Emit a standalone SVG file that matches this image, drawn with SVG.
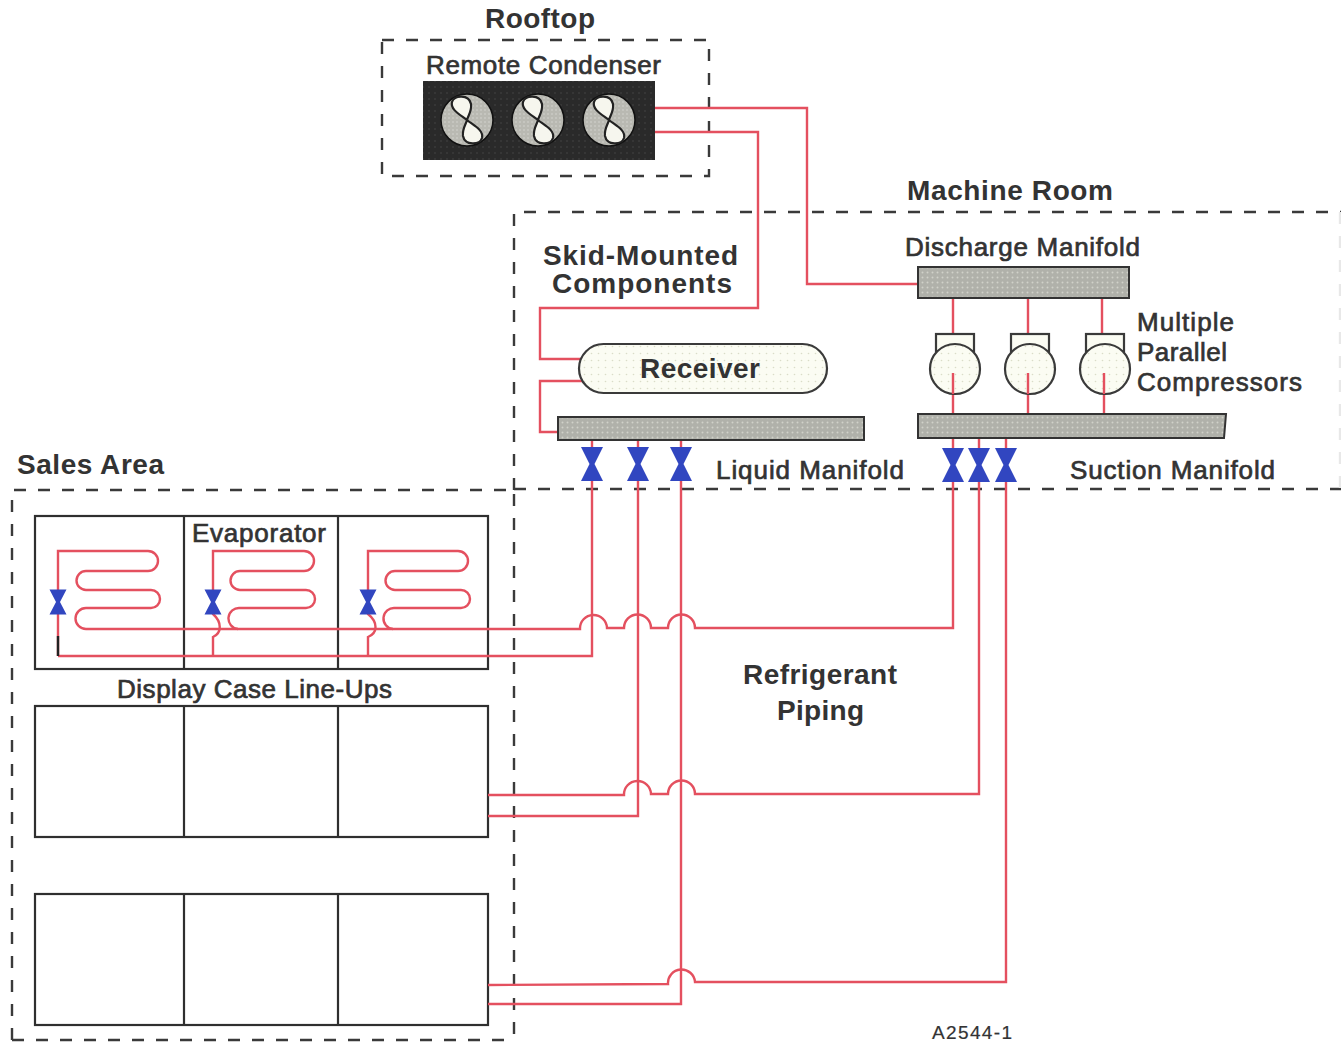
<svg xmlns="http://www.w3.org/2000/svg" width="1341" height="1042" viewBox="0 0 1341 1042">
<style>
text{font-family:"Liberation Sans",Arial,sans-serif;fill:#333;stroke:#333;stroke-width:.7;font-size:26px}
.b{font-weight:bold;stroke-width:0;font-size:28px}
.frame{fill:none;stroke:#3a3a3a;stroke-width:2.4;stroke-dasharray:12 12}
.pipe{fill:none;stroke:#e4505f;stroke-width:2.4}
.case{fill:#fff;stroke:#2f2f2f;stroke-width:2.2}
.man{fill:url(#grey);stroke:#333;stroke-width:2}
.cream{fill:url(#cream);stroke:#3a3a3a;stroke-width:2.2}
.valve{fill:#3146c0}
.fan{fill:url(#fangrey);stroke:#111;stroke-width:1.5}
.blade{fill:#f6f6ee;stroke:#222;stroke-width:2.2}
</style>
<defs>
<pattern id="grey" width="5" height="5" patternUnits="userSpaceOnUse"><rect width="5" height="5" fill="#b0b1aa"/><circle cx="2.5" cy="2.5" r="1" fill="#d0d1c9"/></pattern>
<pattern id="cream" width="7" height="7" patternUnits="userSpaceOnUse"><rect width="7" height="7" fill="#fbfcf3"/><circle cx="3.5" cy="3.5" r=".8" fill="#dadcc8"/></pattern>
<pattern id="fangrey" width="4" height="4" patternUnits="userSpaceOnUse"><rect width="4" height="4" fill="#b9b9b2"/><circle cx="2" cy="2" r=".8" fill="#d6d6d0"/></pattern>
<pattern id="dark" width="6" height="6" patternUnits="userSpaceOnUse"><rect width="6" height="6" fill="#2a2a2a"/><circle cx="3" cy="3" r=".7" fill="#4a4a4a"/></pattern>
<path id="v" class="valve" d="M-11,-17H11L2.5,0L11,17H-11L-2.5,0Z"/>
<path id="vs" class="valve" d="M-8.500,-12.500H8.500L2,0L8.500,12.500H-8.500L-2,0Z"/>
<g id="fanshape">
<circle class="fan" r="26"/>
<path class="blade" d="M0,0C-6,-5 -17,-10 -15,-18C-13,-25 2,-26 4,-16C5,-9 1,-4 0,0C-1,4 -5,9 -4,16C-2,26 13,25 15,18C17,10 6,5 0,0Z"/>
</g>
</defs>

<g id="frames">
<rect class="frame" x="382" y="40" width="327" height="136"/>
<path class="frame" d="M514,490V212H1341"/>
<path class="frame" d="M514,489H1341"/>
<path class="frame" d="M1340,212V489" style="stroke:#e8e8e8"/>
<path class="frame" d="M12,1040V490H514V1040"/>
<path class="frame" d="M12,1040H514"/>
</g>

<g id="case-1"><rect class="case" x="35" y="516" width="453" height="153"/><path class="case" d="M184,516V669M338,516V669"/></g>
<g id="case-2"><rect class="case" x="35" y="706" width="453" height="131"/><path class="case" d="M184,706V837M338,706V837"/></g>
<g id="case-3"><rect class="case" x="35" y="894" width="453" height="131"/><path class="case" d="M184,894V1025M338,894V1025"/></g>

<g id="connectors">
<path class="pipe" d="M655,108H807V284H918"/>
<path class="pipe" d="M655,132H758V308H540V359H582"/>
<path class="pipe" d="M582,381H540V432H558"/>
<path class="pipe" d="M953,298V334M1028,298V334M1102,298V334"/>
<path class="pipe" d="M58,656H592V440"/>
<path class="pipe" d="M638,440V816H488"/>
<path class="pipe" d="M681,440V1004H488"/>
<path class="pipe" d="M953,438V628H695A13.500,13.500 0 0 0 668,628H651A13.500,13.500 0 0 0 624,628H607A13.500,13.500 0 0 0 580,629H86"/>
<path class="pipe" d="M979,438V794H695A13.500,13.500 0 0 0 668,794H651A13.500,13.500 0 0 0 624,795H488"/>
<path class="pipe" d="M1006,438V982H695A13.500,13.500 0 0 0 668,984L488,985"/>
<path class="pipe" d="M58,656V551H148A10,10 0 0 1 148,571H86A9.500,9.500 0 0 0 86,590H151A9,9 0 0 1 151,608H86A10.500,10.500 0 0 0 86,629"/>
<path d="M58,636V656" fill="none" stroke="#222" stroke-width="2.400"/>
<path class="pipe" d="M213,656V637C222,633 222,622 213,614V551H304A10,10 0 0 1 304,571H240A9.500,9.500 0 0 0 240,590H306A9,9 0 0 1 306,608H240A10,10 0 0 0 238,629"/>
<path class="pipe" d="M368,656V637C378,633 378,622 368,614V551H458A10,10 0 0 1 458,571H395A9.500,9.500 0 0 0 395,590H461A9,9 0 0 1 461,608H395A10,10 0 0 0 393,629"/>
<path class="pipe" d="M953,373V414M1028,373V414M1104,373V414"/>
</g>

<g id="evaporator-valves">
<use href="#vs" x="58" y="602"/><use href="#vs" x="213" y="602"/><use href="#vs" x="368" y="602"/>
</g>

<g id="remote-condenser">
<rect x="423" y="81" width="232" height="79" fill="url(#dark)"/>
<use href="#fanshape" x="467" y="120"/><use href="#fanshape" x="538" y="120"/><use href="#fanshape" x="609" y="120"/>
</g>

<g id="receiver"><rect class="cream" x="579" y="344" width="248" height="49" rx="24.500"/><text x="640" y="378" class="b" textLength="120">Receiver</text></g>
<g id="liquid-manifold"><rect class="man" x="558" y="417" width="306" height="23"/></g>
<g id="discharge-manifold"><rect class="man" x="918" y="267" width="211" height="31"/></g>
<g id="suction-manifold"><path class="man" d="M918,414H1226L1224,438H918Z"/></g>

<g id="compressor-1"><rect class="cream" x="936" y="334" width="38" height="20" style="fill:#fbfcf3"/><circle class="cream" cx="955" cy="369" r="25"/><path class="pipe" d="M953,373V394"/></g>
<g id="compressor-2"><rect class="cream" x="1011" y="334" width="38" height="20" style="fill:#fbfcf3"/><circle class="cream" cx="1030" cy="369" r="25"/><path class="pipe" d="M1028,373V394"/></g>
<g id="compressor-3"><rect class="cream" x="1086" y="334" width="38" height="20" style="fill:#fbfcf3"/><circle class="cream" cx="1105" cy="369" r="25"/><path class="pipe" d="M1104,373V394"/></g>

<g id="valves">
<use href="#v" x="592" y="464"/><use href="#v" x="638" y="464"/><use href="#v" x="681" y="464"/>
<use href="#v" x="953" y="465"/><use href="#v" x="979" y="465"/><use href="#v" x="1006" y="465"/>
</g>

<g id="labels">
<text x="485" y="28" class="b" textLength="110">Rooftop</text>
<text x="426" y="74" textLength="235">Remote Condenser</text>
<text x="907" y="200" class="b" textLength="206">Machine Room</text>
<text x="905" y="256" textLength="235">Discharge Manifold</text>
<text x="543" y="265" class="b" textLength="195">Skid-Mounted</text>
<text x="552" y="293" class="b" textLength="180">Components</text>
<text x="1137" y="331" textLength="97">Multiple</text>
<text x="1137" y="361" textLength="90">Parallel</text>
<text x="1137" y="391" textLength="165">Compressors</text>
<text x="716" y="479" textLength="188">Liquid Manifold</text>
<text x="1070" y="479" textLength="205">Suction Manifold</text>
<text x="17" y="474" class="b" textLength="147">Sales Area</text>
<text x="192" y="542" textLength="134">Evaporator</text>
<text x="117" y="698" textLength="275">Display Case Line-Ups</text>
<text x="743" y="684" class="b" textLength="154">Refrigerant</text>
<text x="777" y="720" class="b" textLength="87">Piping</text>
<text x="932" y="1039" style="font-size:19px;stroke-width:.2" textLength="80">A2544-1</text>
</g>
</svg>
